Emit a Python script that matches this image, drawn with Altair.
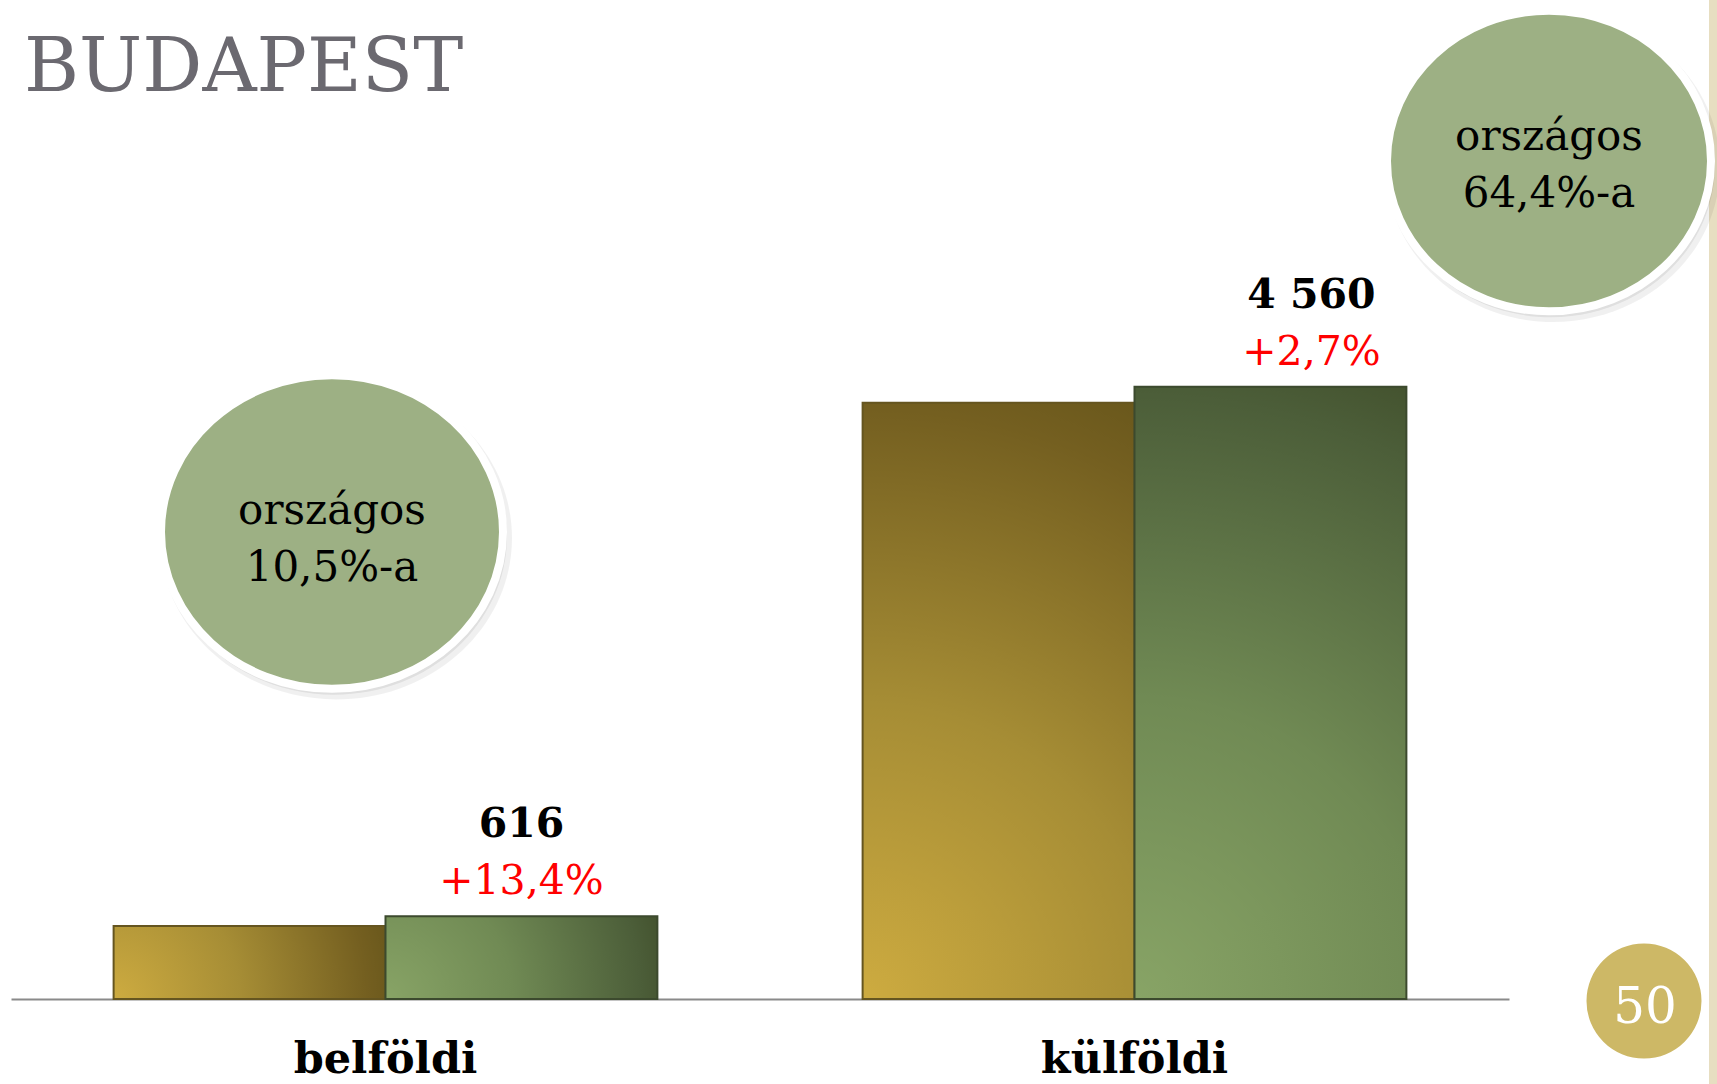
import altair as alt
import pandas as pd

# ---- data ----
categories = ["belföldi", "külföldi"]
series = ["előző év", "tárgyév"]
prev_values = [543, 4440]
curr_values = [616, 4560]
growth_pct = [13.4, 2.7]
national_share = ["10,5", "64,4"]
title_text = "BUDAPEST"
page_number = "50"

FONT = "DejaVu Serif"

rows = []
for c, p, v in zip(categories, prev_values, curr_values):
    rows.append({"cat": c, "series": series[0], "value": p})
    rows.append({"cat": c, "series": series[1], "value": v})
bars_df = pd.DataFrame(rows)

lab_df = pd.DataFrame({
    "cat": categories,
    "series": [series[1]] * len(categories),
    "value": curr_values,
    "num": [f"{v:,}".replace(",", " ") for v in curr_values],
    "pct": ["+" + f"{g:.1f}".replace(".", ",") + "%" for g in growth_pct],
})

one = pd.DataFrame({"k": [0]})

PAD_L = 11
VIEW_W = 1498
VIEW_H = 999
Y_MAX = 7440
BAR_W = 272

x_enc = alt.X(
    "cat:N", sort=categories,
    scale=alt.Scale(paddingInner=0.274, paddingOuter=0.137),
    axis=alt.Axis(title=None, labelFont=FONT, labelFontSize=43, labelFontWeight="bold",
                  labelColor="black", labelBaseline="alphabetic", labelPadding=73,
                  labelLimit=0, ticks=False, tickSize=0, domainColor="#8a8a8a",
                  domainWidth=2, labelAngle=0, grid=False),
)
xo_enc = alt.XOffset("series:N", sort=series, scale=alt.Scale(paddingInner=0, paddingOuter=0))
y_enc = alt.Y("value:Q", scale=alt.Scale(domain=[0, Y_MAX]), axis=None)


def rgrad(colors, w, h):
    # circular gradient spreading from the bar's bottom-left corner
    # (Vega maps radial gradients into a square of side max(w, h), centred on the bar)
    s = max(w, h)
    cx = ((s - w) / 2) / s
    cy = (h + (s - h) / 2) / s
    r = (w * w + h * h) ** 0.5 / s
    return alt.Gradient(
        gradient="radial",
        stops=[alt.GradientStop(offset=o, color=c) for o, c in colors],
        x1=round(cx, 4), y1=round(cy, 4), r1=0,
        x2=round(cx, 4), y2=round(cy, 4), r2=round(r, 4),
    )


gold_cols = [(0, "#CDAB40"), (0.45, "#A68D35"), (0.9, "#745F20"), (1, "#6A581C")]
green_cols = [(0, "#88A466"), (0.45, "#708A54"), (0.9, "#4C5E39"), (1, "#44532F")]

base_bars = alt.Chart(bars_df).encode(x=x_enc, xOffset=xo_enc, y=y_enc)
layers = []
for s_name, vals, cols, stroke in [(series[0], prev_values, gold_cols, "#655520"),
                                   (series[1], curr_values, green_cols, "#3c4a2e")]:
    for c, v in zip(categories, vals):
        h = VIEW_H * v / Y_MAX
        layers.append(
            base_bars.transform_filter((alt.datum.series == s_name) & (alt.datum.cat == c))
            .mark_bar(color=rgrad(cols, BAR_W, h), stroke=stroke, strokeWidth=2)
        )

# value labels
offsets = {"belföldi": 0, "külföldi": 41}
for c in categories:
    b = alt.Chart(lab_df).transform_filter(alt.datum.cat == c).encode(x=x_enc, xOffset=xo_enc, y=y_enc)
    layers.append(b.mark_text(font=FONT, fontSize=41, fontWeight="bold", color="black",
                              baseline="alphabetic", dy=-79, dx=offsets[c]).encode(text="num:N"))
    layers.append(b.mark_text(font=FONT, fontSize=41, color="#FF0000",
                              baseline="alphabetic", dy=-22, dx=offsets[c]).encode(text="pct:N"))


def bubble(text, cx, cy, w, ratio, text_y):
    path = f"M -1 0 A 1 {ratio} 0 1 1 1 0 A 1 {ratio} 0 1 1 -1 0 Z"
    b = alt.Chart(one).encode(x=alt.value(cx - PAD_L), y=alt.value(cy))
    shadow = b.mark_point(shape=path, size=(w + 10) ** 2, filled=True, fill="#000000",
                          opacity=0.06, xOffset=4, yOffset=6)
    shadow2 = b.mark_point(shape=path, size=(w + 4) ** 2, filled=True, fill="#000000",
                           opacity=0.07, xOffset=2, yOffset=4)
    disc = b.mark_point(shape=path, size=w ** 2, filled=True, fill="#9DB084", opacity=1,
                        stroke="white", strokeWidth=8, strokeOpacity=1)
    txt = alt.Chart(one).mark_text(text=text, lineBreak="\n", lineHeight=57, font=FONT,
                                   fontSize=42, color="black", baseline="alphabetic",
                                   align="center").encode(
        x=alt.value(cx - PAD_L), y=alt.value(text_y))
    return [shadow, shadow2, disc, txt]


layers += bubble(f"országos\n{national_share[0]}%-a", 332, 532, 342, 0.917, 524)
layers += bubble(f"országos\n{national_share[1]}%-a", 1549, 161, 324, 0.928, 150)

# right beige strip
strip = alt.Chart(one).mark_rect(color="#E7DEC1").encode(
    x=alt.value(1709 - PAD_L), x2=alt.value(1717 - PAD_L), y=alt.value(0), y2=alt.value(1084))
layers.insert(0, strip)

# title
title = alt.Chart(one).mark_text(text=title_text, font=FONT, fontSize=75, color="#6B6970",
                                 align="left", baseline="alphabetic").encode(
    x=alt.value(24 - PAD_L), y=alt.value(91))
layers.append(title)

# page number badge
badge = alt.Chart(one).mark_point(shape="circle", size=115 ** 2, filled=True, fill="#CDB866",
                                  opacity=1).encode(x=alt.value(1644 - PAD_L), y=alt.value(1001))
badge_txt = alt.Chart(one).mark_text(text=page_number, font=FONT, fontSize=50, color="white",
                                     align="center", baseline="alphabetic").encode(
    x=alt.value(1645 - PAD_L), y=alt.value(1023))
layers += [badge, badge_txt]

chart = alt.layer(*layers).properties(
    width=VIEW_W, height=VIEW_H,
    autosize=alt.AutoSizeParams(type="none"),
    padding={"left": PAD_L, "top": 0, "right": 1717 - PAD_L - VIEW_W, "bottom": 1084 - VIEW_H},
    background="white",
).configure_view(stroke=None)

chart.save("out.html", embed_options={"renderer": "svg", "actions": False})
